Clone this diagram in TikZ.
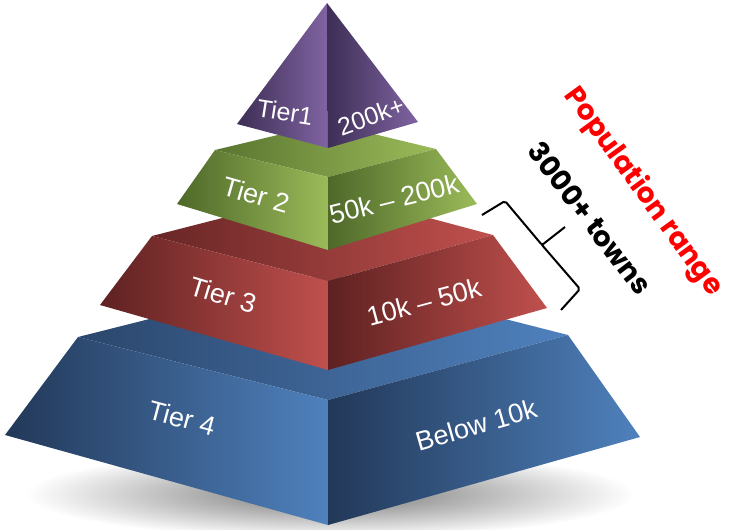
\documentclass[tikz,border=0pt]{standalone}
\usepackage{fontspec}
\setmainfont{Liberation Sans}
\newfontfamily\sidefont{Poppins}
\usetikzlibrary{positioning}

% tier colours (dark edge / light edge)
\definecolor{tonedark}{HTML}{3D2E55}
\definecolor{tonelight}{HTML}{8064A2}
\definecolor{grassdark}{HTML}{4E6829}
\definecolor{grasslight}{HTML}{9BBB59}
\definecolor{brickdark}{HTML}{5E2121}
\definecolor{bricklight}{HTML}{C0504D}
\definecolor{seadark}{HTML}{223858}
\definecolor{sealight}{HTML}{4F81BD}

\begin{document}
\begin{tikzpicture}[x=1pt,y=-1pt,
  tierlabel/.style={text=white, inner sep=0pt, font=\fontsize{27}{27}\selectfont},
  sidelabel/.style={inner sep=0pt, font=\sidefont\bfseries\fontsize{28}{28}\selectfont}]

\useasboundingbox (0,0) rectangle (731,530);

% ===============================================================
% Shadow under the base
% ===============================================================

\shade[inner color=black!55, outer color=white] (330,494) ellipse [x radius=305, y radius=44];

% ===============================================================
% Tier 4 (base)
% ===============================================================

% top face
\shade[left color=seadark!80!sealight, right color=sealight] (78,337) -- (328,400) -- (568,335) -- (328,274) -- cycle;
% left face
\shade[left color=seadark, middle color=seadark!80!sealight, right color=sealight] (78,337) -- (328,400) -- (328,525) -- (5,435) -- cycle;
% right face
\shade[left color=seadark, right color=sealight] (328,400) -- (568,335) -- (640,437) -- (328,525) -- cycle;

\node[tierlabel, rotate=-15] (tier4)  at (182,418) {Tier 4};
\node[tierlabel, rotate=16]  (range4) at (476,425) {Below 10k};

% ===============================================================
% Tier 3
% ===============================================================

\shade[left color=brickdark!90!bricklight, right color=bricklight] (152,236) -- (328,281) -- (493,235) -- (328,191) -- cycle;
\shade[left color=brickdark, middle color=brickdark!70!bricklight, right color=bricklight] (152,236) -- (328,281) -- (328,370) -- (100,305) -- cycle;
\shade[left color=brickdark, right color=bricklight] (328,281) -- (493,235) -- (547,308) -- (328,370) -- cycle;

\node[tierlabel, rotate=-17] (tier3)  at (223,295) {Tier 3};
\node[tierlabel, rotate=15]  (range3) at (424,302) {10k -- 50k};

% ===============================================================
% Tier 2
% ===============================================================

\shade[left color=grassdark!85!grasslight, right color=grasslight] (215,150) -- (328,177) -- (436,149) -- (328,123) -- cycle;
\shade[left color=grassdark, middle color=grassdark!70!grasslight, right color=grasslight] (215,150) -- (328,177) -- (328,250) -- (177,204) -- cycle;
\shade[left color=grassdark, right color=grasslight] (328,177) -- (436,149) -- (477,204) -- (328,250) -- cycle;

\node[tierlabel, rotate=-16] (tier2)  at (256,195) {Tier 2};
\node[tierlabel, rotate=14]  (range2) at (394,199) {50k -- 200k};

% ===============================================================
% Tier 1 (top)
% ===============================================================

\shade[left color=tonedark, right color=tonelight] (327,3) -- (237,124) -- (328,148) -- cycle;
\shade[left color=tonedark, right color=tonelight] (327,3) -- (328,148) -- (418,122) -- cycle;

\node[tierlabel, font=\fontsize{25}{25}\selectfont, rotate=-9] (tier1)  at (285,112) {Tier1};
\node[tierlabel, font=\fontsize{25}{25}\selectfont, rotate=20] (range1) at (371,116) {200k+};

% ===============================================================
% Right: brace and side labels
% ===============================================================

\draw[line width=2pt, rounded corners=2pt] (482,215) -- (505,201) -- (542,245) -- (565,227);
\draw[line width=2pt, rounded corners=2pt] (542,245) -- (580,289) -- (561,310);

\node[sidelabel, rotate=-52.5] (towns) at (590,218) {3000+ towns};
\node[sidelabel, text=red, rotate=-54] (poprange) at (643,192) {Population range};

\end{tikzpicture}
\end{document}
